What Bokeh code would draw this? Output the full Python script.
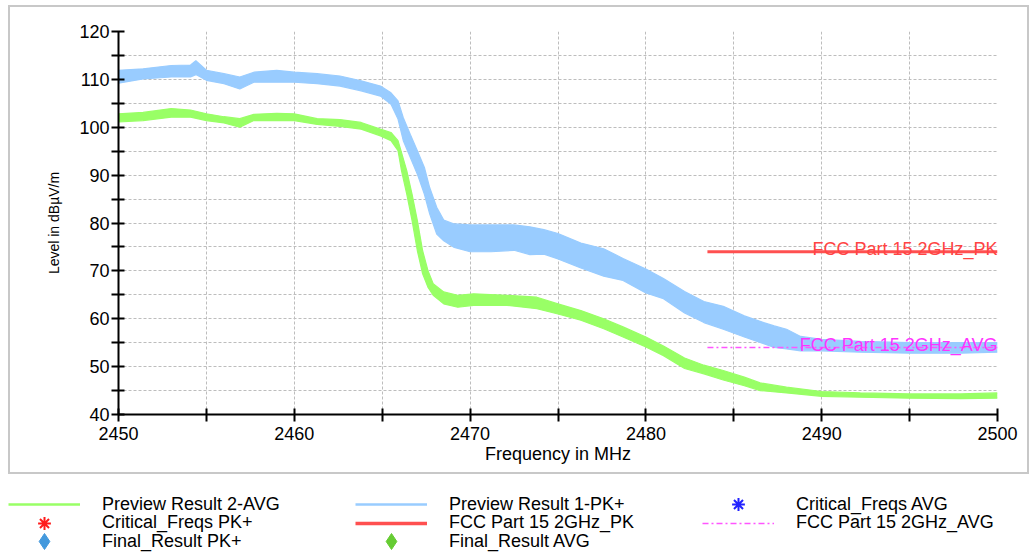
from bokeh.plotting import figure
from bokeh.layouts import column
from bokeh.models import (Range1d, FixedTicker, Legend, LegendItem, Label,
                          InlineStyleSheet)
from bokeh.embed import file_html
from bokeh.resources import INLINE

FONT = "Liberation Sans"
NAN = float("nan")

# ---- Preview Result 1-PK+ (read envelope: low / high edge of the noisy trace)
pk_freq = [2450.0, 2451.4, 2453.0, 2454.1, 2454.4, 2455.0, 2456.0, 2456.9, 2457.7,
           2459.0, 2460.0, 2461.3, 2462.6, 2463.8, 2464.9, 2465.5, 2465.9, 2466.2,
           2466.6, 2467.0, 2467.4, 2467.7, 2468.1, 2468.5, 2469.1, 2470.0, 2471.2,
           2472.5, 2473.4, 2474.2, 2475.0, 2476.3, 2477.6, 2478.7, 2480.0, 2481.0,
           2482.2, 2483.3, 2484.4, 2485.6, 2486.7, 2487.3, 2488.0, 2488.8, 2490.0,
           2492.2, 2495.0, 2497.9, 2500.0]
pk_low = [109.2, 110.1, 110.5, 110.5, 111.0, 109.8, 109.1, 108.0, 109.4,
          109.4, 109.4, 109.1, 108.6, 107.6, 106.5, 104.8, 101.7, 97.2,
          93.7, 90.2, 86.0, 81.9, 77.7, 76.3, 74.9, 74.0, 74.0,
          74.3, 73.4, 73.5, 72.5, 70.6, 68.9, 68.0, 65.4, 64.2,
          61.2, 59.2, 57.8, 56.2, 54.8, 54.0, 53.7, 53.3, 53.3,
          53.0, 52.8, 52.8, 53.0]
pk_high = [111.9, 112.2, 112.9, 113.0, 113.9, 111.9, 111.2, 110.5, 111.5,
           111.9, 111.5, 111.2, 110.7, 109.7, 108.6, 107.2, 105.5, 102.0,
           98.5, 95.1, 91.6, 87.4, 83.3, 80.6, 79.8, 79.6, 79.6,
           79.6, 79.2, 78.6, 77.8, 75.8, 74.6, 72.6, 70.4, 68.4,
           65.7, 63.6, 62.6, 60.6, 59.2, 58.5, 57.8, 56.3, 55.7,
           55.3, 55.0, 55.0, 55.0]

# ---- Preview Result 2-AVG
avg_freq = [2450.0, 2451.4, 2453.0, 2454.1, 2455.0, 2456.0, 2456.9, 2457.7, 2459.0,
            2460.0, 2461.3, 2462.6, 2463.8, 2464.9, 2465.5, 2465.9, 2466.1, 2466.4,
            2466.7, 2467.0, 2467.3, 2467.6, 2467.9, 2468.5, 2469.3, 2470.2, 2472.1,
            2473.8, 2475.0, 2476.3, 2477.6, 2478.7, 2480.0, 2481.0, 2482.2, 2483.3,
            2484.4, 2485.6, 2486.5, 2488.0, 2490.0, 2492.2, 2495.0, 2497.9, 2500.0]
avg_low = [101.1, 101.4, 102.1, 102.1, 101.4, 100.9, 100.0, 101.4, 101.4,
           101.4, 100.6, 100.2, 99.6, 98.2, 97.2, 95.1, 90.9, 86.0,
           80.5, 74.2, 69.4, 66.6, 64.9, 63.1, 62.4, 62.8, 62.8,
           62.1, 61.0, 59.7, 57.9, 56.2, 54.1, 52.3, 49.6, 48.5,
           47.2, 46.0, 45.0, 44.5, 43.8, 43.6, 43.4, 43.3, 43.4]
avg_high = [102.8, 103.1, 103.9, 103.6, 102.8, 102.2, 101.8, 102.7, 102.9,
            102.8, 101.8, 101.6, 101.0, 99.6, 98.9, 97.2, 94.7, 90.9,
            86.0, 80.5, 74.2, 70.1, 67.3, 65.6, 64.9, 65.2, 64.9,
            64.5, 63.1, 61.7, 60.0, 58.3, 56.2, 54.3, 51.8, 50.3,
            49.2, 47.8, 46.6, 45.7, 44.8, 44.5, 44.3, 44.3, 44.5]

# ---- Limit lines
fcc_pk_freq = [2483.5, 2500.0]
fcc_pk_level = [74.0, 74.0]
fcc_avg_freq = [2483.5, 2500.0]
fcc_avg_level = [54.0, 54.0]

# ---- Series without points in the view (shown in the legend only)
crit_pk_freq, crit_pk_level = [], []
crit_avg_freq, crit_avg_level = [], []
final_pk_freq, final_pk_level = [], []
final_avg_freq, final_avg_level = [], []

# ---- Ticks
x_major = [2450, 2460, 2470, 2480, 2490, 2500]
x_minor = [2455, 2465, 2475, 2485, 2495]
y_major = [40, 50, 60, 70, 80, 90, 100, 110, 120]
y_minor = [45, 55, 65, 75, 85, 95, 105, 115]

BLUE = "#99ccff"
GREEN = "#99ff66"
RED = "#ff5050"
MAGENTA = "#ff55ff"
CRIT_PK = "#ff1a1a"
CRIT_AVG = "#2222ff"
FINAL_PK = "#4499dd"
FINAL_AVG = "#66cc33"

border_css = InlineStyleSheet(css="""
:host { position: relative; }
:host::after {
  content: ""; position: absolute; left: 8px; top: 5px; width: 1021px; height: 469px;
  box-sizing: border-box; border: 2px solid #c8c8c8; pointer-events: none;
}
""")

p = figure(width=1036, height=474, x_range=Range1d(2450, 2500), y_range=Range1d(40, 120),
           output_backend="svg", toolbar_location=None, frame_align=False,
           min_border_left=118, min_border_right=39, min_border_top=31, min_border_bottom=60,
           outline_line_color=None, background_fill_color="white", border_fill_color="white",
           stylesheets=[border_css])

p.xaxis.ticker = FixedTicker(ticks=x_major, minor_ticks=x_minor)
p.yaxis.ticker = FixedTicker(ticks=y_major, minor_ticks=y_minor)
p.xgrid.ticker = FixedTicker(ticks=sorted(x_major + x_minor))
p.ygrid.ticker = FixedTicker(ticks=sorted(y_major + y_minor))
for g in (p.xgrid, p.ygrid):
    g.grid_line_color = "#bdbdbd"
    g.grid_line_dash = "3 2"
    g.grid_line_width = 1

for ax in (p.xaxis[0], p.yaxis[0]):
    ax.axis_line_color = "black"
    ax.axis_line_width = 2
    ax.major_tick_line_color = "black"
    ax.minor_tick_line_color = "black"
    ax.major_tick_line_width = 2
    ax.minor_tick_line_width = 2
    ax.major_tick_in = 6
    ax.major_tick_out = 7
    ax.minor_tick_in = 6
    ax.minor_tick_out = 7
    ax.major_label_text_font = FONT
    ax.major_label_text_font_size = "18px"
    ax.major_label_text_color = "black"
    ax.axis_label_text_font = FONT
    ax.axis_label_text_font_style = "normal"
    ax.axis_label_text_color = "black"

p.xaxis.axis_label = "Frequency in MHz"
p.xaxis.axis_label_text_font_size = "18px"
p.xaxis.major_label_standoff = 5
p.xaxis.axis_label_standoff = 1
p.yaxis.axis_label = "Level in dBµV/m"
p.yaxis.axis_label_text_font_size = "14px"
p.yaxis.major_label_standoff = 2
p.yaxis.axis_label_standoff = 14

# traces
p.varea(x=pk_freq, y1=pk_low, y2=pk_high, fill_color=BLUE)
p.line(pk_freq, pk_high, line_color=BLUE, line_width=1.2)
p.line(pk_freq, pk_low, line_color=BLUE, line_width=1.2)
p.varea(x=avg_freq, y1=avg_low, y2=avg_high, fill_color=GREEN)
p.line(avg_freq, avg_high, line_color=GREEN, line_width=1.2)
p.line(avg_freq, avg_low, line_color=GREEN, line_width=1.2)

# limit lines
p.line(fcc_avg_freq, fcc_avg_level, line_color=MAGENTA, line_width=1.5, line_dash="6 3 2 3")
p.line(fcc_pk_freq, fcc_pk_level, line_color=RED, line_width=3)

# critical / final points (none inside the view)
p.scatter(crit_pk_freq, crit_pk_level, marker="asterisk", size=12, line_color=CRIT_PK, line_width=2)
p.scatter(crit_avg_freq, crit_avg_level, marker="asterisk", size=12, line_color=CRIT_AVG, line_width=2)
p.scatter(final_pk_freq, final_pk_level, marker="diamond", size=18, fill_color=FINAL_PK, line_color=FINAL_PK)
p.scatter(final_avg_freq, final_avg_level, marker="diamond", size=18, fill_color=FINAL_AVG, line_color=FINAL_AVG)

# limit labels
p.add_layout(Label(x=fcc_pk_freq[-1], y=fcc_pk_level[-1], text="FCC Part 15 2GHz_PK",
                   text_align="right", text_baseline="alphabetic", x_offset=0, y_offset=3,
                   text_color="#ff4444", text_font=FONT, text_font_size="18px"))
p.add_layout(Label(x=fcc_avg_freq[-1], y=fcc_avg_level[-1], text="FCC Part 15 2GHz_AVG",
                   text_align="right", text_baseline="alphabetic", x_offset=0, y_offset=2,
                   text_color="#ff33ff", text_font=FONT, text_font_size="18px"))

# ---- legend strip below the chart panel (legend swatches only, no data drawn)
lf = figure(width=1036, height=80, x_range=Range1d(0, 1), y_range=Range1d(0, 1),
            output_backend="svg", toolbar_location=None, min_border=0, frame_align=False,
            x_axis_type=None, y_axis_type=None, outline_line_color=None,
            background_fill_color="white", border_fill_color="white")
lf.grid.visible = False
swatch = dict(x=[NAN], y=[NAN])
l_avg = lf.line(line_color=GREEN, line_width=2.5, **swatch)
l_pk = lf.line(line_color=BLUE, line_width=2.5, **swatch)
l_cavg = lf.scatter(marker="asterisk", line_color=CRIT_AVG, line_width=2, **swatch)
l_cpk = lf.scatter(marker="asterisk", line_color=CRIT_PK, line_width=2, **swatch)
l_fpk_lim = lf.line(line_color=RED, line_width=3.5, **swatch)
l_favg_lim = lf.line(line_color=MAGENTA, line_width=1.5, line_dash="6 3 2 3", **swatch)
l_fpk = lf.scatter(marker="diamond", fill_color=FINAL_PK, line_color=FINAL_PK, **swatch)
l_favg = lf.scatter(marker="diamond", fill_color=FINAL_AVG, line_color=FINAL_AVG, **swatch)

legend_rows = [
    ([("Preview Result 2-AVG", l_avg), ("Preview Result 1-PK+", l_pk),
      ("Critical_Freqs AVG", l_cavg)], 50, 32),
    ([("Critical_Freqs PK+", l_cpk), ("FCC Part 15 2GHz_PK", l_fpk_lim),
      ("FCC Part 15 2GHz_AVG", l_favg_lim)], 31.5, 32),
    ([("Final_Result PK+", l_fpk), ("Final_Result AVG", l_favg)], 13, 40),
]
for items, center, gh in legend_rows:
    lg = Legend(items=[LegendItem(label=t, renderers=[r]) for t, r in items],
                location=(8, center - gh / 2), orientation="horizontal",
                glyph_width=72, glyph_height=gh, label_standoff=22, label_width=253,
                label_height=gh, spacing=0, padding=0, margin=0,
                border_line_color=None, background_fill_alpha=0,
                label_text_font=FONT, label_text_font_size="18px", label_text_color="black")
    lf.add_layout(lg)

layout = column(p, lf, spacing=0)
open("out.html", "w").write(file_html(layout, INLINE))
